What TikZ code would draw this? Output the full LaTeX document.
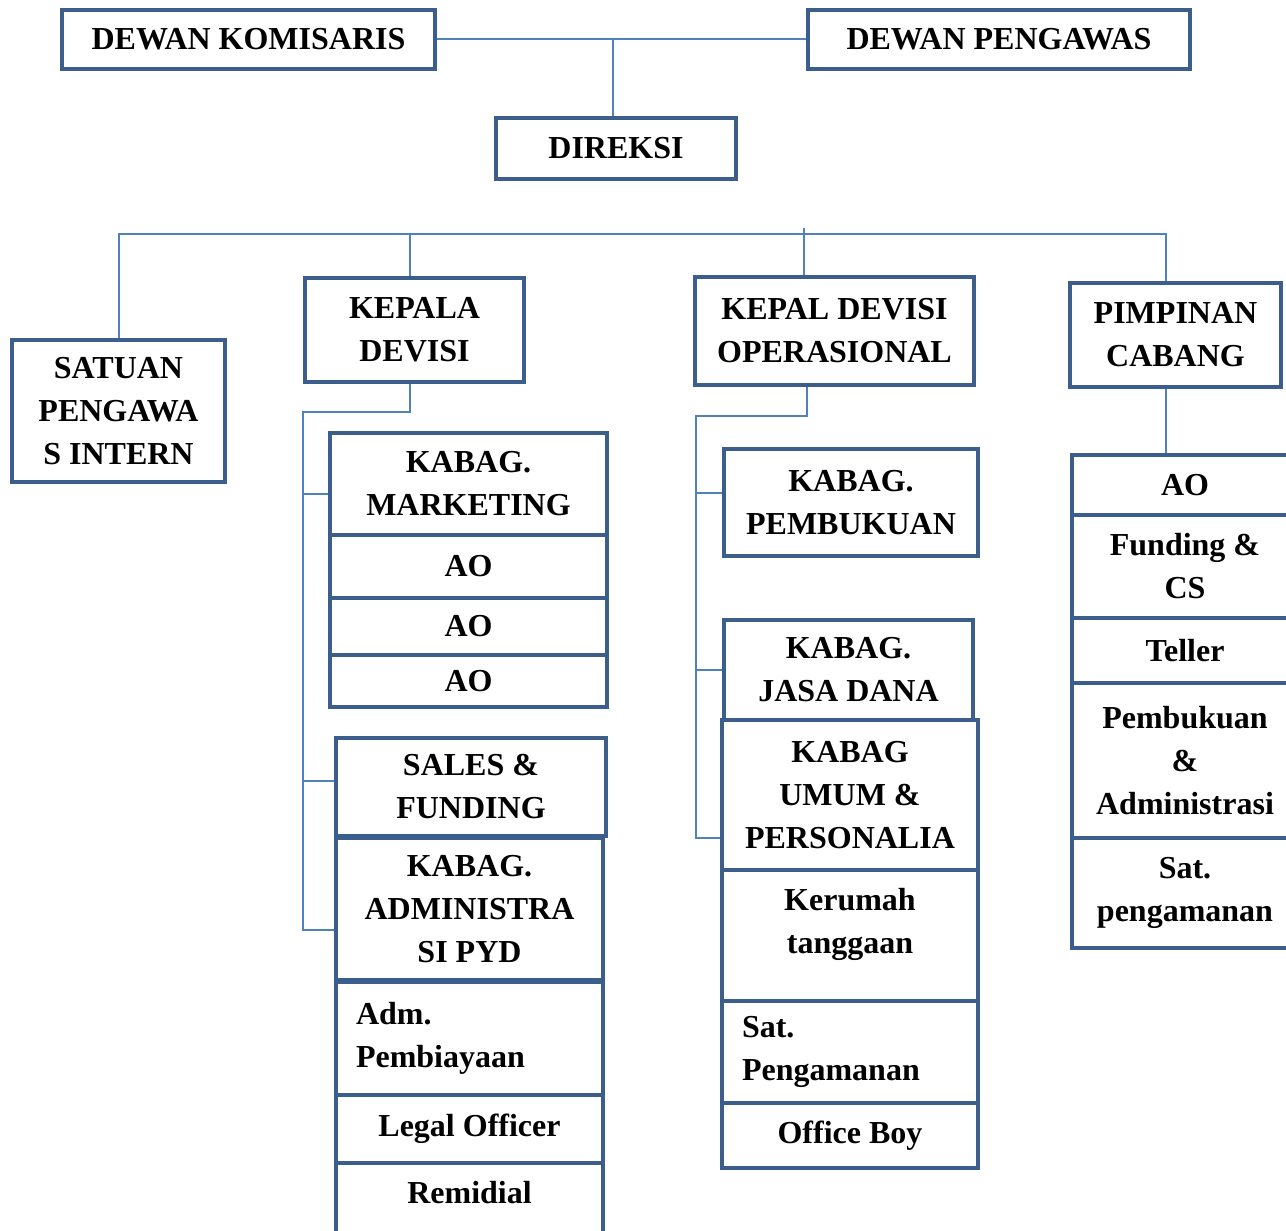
\documentclass[tikz,border=0pt]{standalone}
\usepackage{fontspec}
\setmainfont{Liberation Serif}
\definecolor{boxblue}{RGB}{59,94,140}
\definecolor{linkblue}{RGB}{79,129,189}
\begin{document}
\begin{tikzpicture}[x=1pt,y=-1pt,
  unit/.style={draw=boxblue,line width=4.5pt,align=center,inner sep=0pt,
    font=\fontsize{32}{43}\selectfont\bfseries},
  leftunit/.style={unit,align=left,inner xsep=20pt},
  link/.style={draw=linkblue,line width=2pt}]
\clip (0,0) rectangle (1286,1231);
\node[unit,minimum width=373pt,minimum height=59pt] (kom) at (248.5,39.5) {DEWAN KOMISARIS};
\node[unit,minimum width=382pt,minimum height=59pt] (pen) at (999,39.5) {DEWAN PENGAWAS};
\node[unit,minimum width=240pt,minimum height=61pt] (dir) at (616,148.5) {DIREKSI};
\node[unit,minimum width=213pt,minimum height=142pt] (spi) at (118.5,411) {SATUAN\\PENGAWA\\S INTERN};
\node[unit,minimum width=219pt,minimum height=104pt] (kdv) at (414.5,330) {KEPALA\\DEVISI};
\node[unit,minimum width=279pt,minimum height=108pt] (kdo) at (834.5,331) {KEPAL DEVISI\\OPERASIONAL};
\node[unit,minimum width=211pt,minimum height=104pt] (pc) at (1175.5,335) {PIMPINAN\\CABANG};
\node[unit,minimum width=277pt,minimum height=102pt] (kmk) at (468.5,484) {KABAG.\\MARKETING};
\node[unit,minimum width=277pt,minimum height=63pt] (ao1) at (468.5,566.5) {AO};
\node[unit,minimum width=277pt,minimum height=57pt] (ao2) at (468.5,626.5) {AO};
\node[unit,minimum width=277pt,minimum height=52pt] (ao3) at (468.5,681) {AO};
\node[unit,minimum width=270pt,minimum height=98pt] (saf) at (471,787) {SALES \&\\FUNDING};
\node[unit,minimum width=267pt,minimum height=142pt] (kap) at (469.5,909) {KABAG.\\ADMINISTRA\\SI PYD};
\node[leftunit,text width=227pt,minimum height=113pt] (adm) at (469.5,1038.5) {Adm.\\Pembiayaan};
\node[unit,minimum width=267pt,minimum height=68pt] (leg) at (469.5,1129) {Legal Officer};
\node[unit,minimum width=267pt,minimum height=77pt,text depth=18pt] (rem) at (469.5,1201.5) {Remidial};
\node[unit,minimum width=254pt,minimum height=107pt] (pbk) at (851,502.5) {KABAG.\\PEMBUKUAN};
\node[unit,minimum width=249pt,minimum height=100pt] (jsd) at (848.5,670) {KABAG.\\JASA DANA};
\node[unit,minimum width=256pt,minimum height=150pt] (ump) at (850,795) {KABAG\\UMUM \&\\PERSONALIA};
\node[unit,minimum width=256pt,minimum height=131pt,text depth=30pt] (krt) at (850,935.5) {Kerumah\\tanggaan};
\node[leftunit,text width=216pt,minimum height=102pt] (sat) at (850,1052) {Sat.\\Pengamanan};
\node[unit,minimum width=256pt,minimum height=65pt] (ofb) at (850,1135.5) {Office Boy};
\node[unit,minimum width=226pt,minimum height=60pt] (rao) at (1185,485) {AO};
\node[unit,minimum width=226pt,minimum height=103pt] (rfc) at (1185,566.5) {Funding \&\\CS};
\node[unit,minimum width=226pt,minimum height=65pt] (rtl) at (1185,650.5) {Teller};
\node[unit,minimum width=226pt,minimum height=155pt] (rpa) at (1185,760.5) {Pembukuan\\\&\\Administrasi};
\node[unit,minimum width=226pt,minimum height=110pt] (rsp) at (1185,893) {Sat.\\pengamanan};
\coordinate (bar) at (0,234);
\coordinate (lbr) at (303,412);
\coordinate (mbr) at (696,416);
\coordinate (pcin) at ([xshift=-9.5pt]pc.north);
\draw[link] (kom.east) -- (pen.west);
\draw[link] ([xshift=-3pt]dir.north) -- ([xshift=-3pt]dir.north |- kom.east);
\draw[link] (spi.north) |- (bar -| pcin) -- (pcin);
\draw[link] ([xshift=-4.5pt]kdv.north) -- ([xshift=-4.5pt]kdv.north |- bar);
\draw[link] ([xshift=-30.5pt]kdo.north) -- ([xshift=-30.5pt,yshift=6pt]kdo.north |- bar);
\draw[link] ([xshift=-4.5pt]kdv.south) |- (lbr) |- ([yshift=-21pt]kap.west);
\draw[link] ([yshift=-10pt]kmk.west) -- ([yshift=-10pt]kmk.west -| lbr);
\draw[link] ([yshift=6pt]saf.west) -- ([yshift=6pt]saf.west -| lbr);
\draw[link] ([xshift=-27.5pt]kdo.south) |- (mbr) |- ([yshift=-43pt]ump.west);
\draw[link] ([yshift=9.5pt]pbk.west) -- ([yshift=9.5pt]pbk.west -| mbr);
\draw[link] (jsd.west) -- (jsd.west -| mbr);
\draw[link] ([xshift=-9.5pt]pc.south) -- ([xshift=-9.5pt]pc.south |- rao.north);
\end{tikzpicture}
\end{document}
